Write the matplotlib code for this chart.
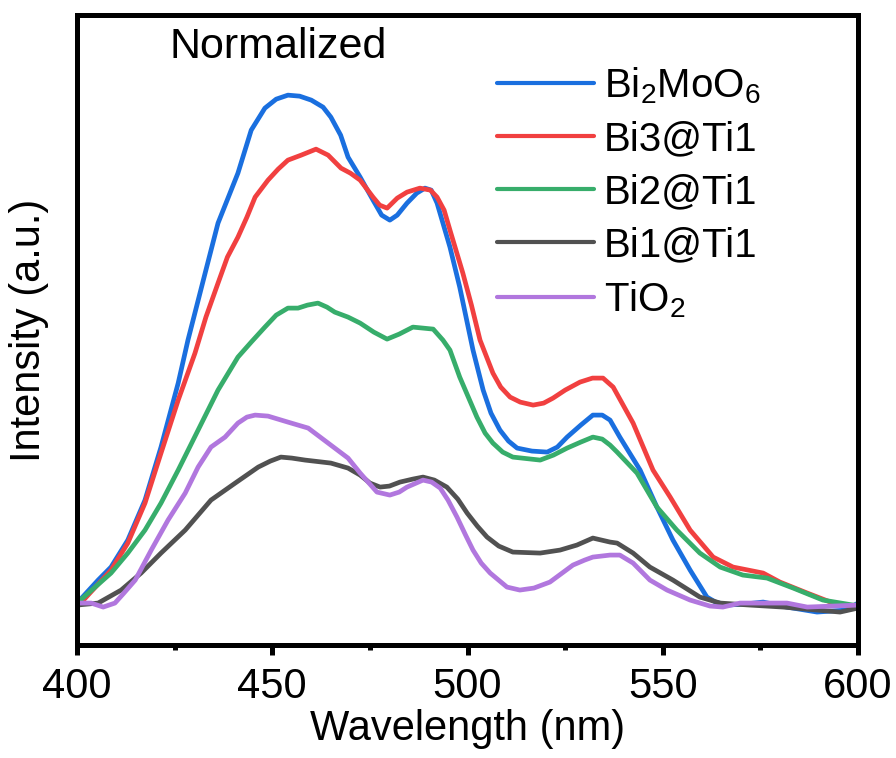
import matplotlib
matplotlib.use("Agg")
import matplotlib.pyplot as plt
from matplotlib.ticker import MultipleLocator

plt.rcParams['font.family'] = ['Liberation Sans', 'DejaVu Sans']
plt.rcParams['mathtext.default'] = 'regular'

labels = ['Bi$_2$MoO$_6$', 'Bi3@Ti1', 'Bi2@Ti1', 'Bi1@Ti1', 'TiO$_2$']
colors = ['#1A6FDF', '#F14040', '#37AD6B', '#515151', '#B177DE']

# Bi2MoO6
wl_bmo = [400, 405.4, 408.7, 413, 417.4, 421.5, 425.9, 428.4, 432.8, 436.1, 441.2, 444.6, 448.1,
          451, 454, 457, 460, 463, 465, 467.5, 469.4, 472.5, 475.8, 478, 480.1, 482, 484.5,
          487, 489.1, 490.7, 492.2, 495.5, 498, 501.4,
          504, 506, 508.3, 510.5, 512.7, 516.5, 520.4, 523, 525.5, 529, 532.1, 534.5, 536.5,
          539, 544.2, 548.5, 552.6, 557, 561.3, 563.5,
          566.5, 571, 575.7, 581.8, 589.5, 597, 600]
in_bmo = [42, 65, 78, 105, 145, 198, 262, 305, 372, 422, 472, 515, 537,
          546, 550, 549, 545, 538, 528, 510, 488, 468, 445, 430, 425, 430, 442,
          452, 457, 455, 442, 398, 358, 295,
          255, 232, 215, 204, 197, 194, 193, 198, 208, 220, 230, 230, 225,
          208, 175, 138, 105, 75, 48, 43,
          40, 41, 43, 38, 33, 35, 42]

# Bi3@Ti1
wl_b3 = [400, 408.7, 413, 417.4, 421.5, 425.9, 430.2, 433, 436.1, 438.5, 441.2, 443.5, 445.6,
         448.9, 451.5, 454, 457.4,
         461.2, 464.3, 467.6, 470, 472.5, 475.8, 477.5, 479.4, 482, 484.5, 487.8, 490.5, 492.2,
         494, 495.5, 498.8, 501, 503.2,
         506.5, 508.5, 510.9, 513.5, 516.8, 519.5, 521.9, 525, 528.8, 532, 534.7, 537.3, 542.4,
         547.5, 551.9, 557, 562.9, 568,
         575.7, 580, 587, 593.6, 600]
in_b3 = [38, 75, 102, 142, 192, 245, 292, 328, 362, 388, 408, 428, 448,
         465, 476, 485, 490,
         496, 490, 477, 472, 465, 448, 440, 437, 447, 453, 457, 455, 448,
         435, 415, 372, 340, 305,
         272, 258, 248, 243, 240, 242, 247, 255, 263, 267, 267, 258, 222,
         175, 148, 115, 88, 78,
         72, 63, 52, 42, 38]

# Bi2@Ti1
wl_b2 = [400, 408.7, 413, 417.4, 421.5, 425.9, 431, 436.1, 441.2, 444.6, 448.1, 451, 454, 456.6,
         459, 461.7, 464, 466, 469.4, 472.5, 476, 479.4, 482.5, 486, 491.2, 493.7, 495.5, 498,
         502.4, 504.5, 506.5, 509, 511.6,
         518.6, 522, 525.5, 529, 532.1, 534.5, 536.5, 538.3, 543.4, 548.5, 553.6, 559.5, 564.7,
         570.5, 576.7, 583.4, 591, 598.7, 600]
in_b2 = [42, 72, 92, 115, 142, 175, 215, 255, 288, 303, 318, 330, 337, 337,
         340, 342, 338, 333, 328, 322, 313, 306, 311, 318, 316, 305, 295, 268,
         228, 212, 202, 193, 188,
         185, 190, 197, 203, 208, 206, 200, 193, 172, 138, 115, 92, 78,
         70, 67, 57, 45, 40, 40]

# Bi1@Ti1
wl_b1 = [400, 405.4, 411.3, 416.4, 421.5, 427.7, 434.3, 440.5, 446.4, 449.5, 452.2, 455, 458.4, 465,
         469.4, 472.5, 475, 477.6, 480, 482.7, 486, 488.6, 491.5, 494.7, 497.5, 499.9, 502.5,
         505, 508, 511.6, 518.6, 523.7, 528, 532.1,
         536.5, 538.3, 542.4, 546.7, 552.6, 559.5, 564.7, 572.3, 580.8, 589.5, 595.4, 600]
in_b1 = [40, 42, 55, 72, 92, 115, 145, 162, 178, 184, 188, 187, 185, 182,
         177, 170, 162, 158, 159, 163, 166, 168, 165, 158, 146, 132, 119,
         108, 99, 93, 92, 95, 100, 107,
         103, 102, 92, 78, 65, 48, 42, 40, 38, 35, 33, 37]

# TiO2
wl_ti = [400, 403.6, 406.7, 409.7, 412, 414.9, 419, 423.3, 427.7, 431, 434.3, 437.9, 441.2,
         443.5, 445.6, 448.9, 454, 459.2, 464.3, 469.4, 472.5, 476.8, 480.1, 482.5, 484.5,
         488.6, 490.8, 493, 495, 497.3, 499.5,
         501.4, 503.5, 505.8, 510.1, 513.4, 517, 521.1, 527, 530, 532.1, 536.5, 539, 542.4,
         546.7, 551.1, 557,
         562.1, 565.4, 569.8, 576.7, 581.8, 587, 593.6, 600]
in_ti = [42, 42, 38, 42, 52, 65, 95, 125, 152, 178, 198, 208, 222,
         228, 230, 229, 223, 217, 202, 187, 172, 153, 150, 153, 158,
         165, 163, 157, 145, 128, 110,
         95, 82, 72, 58, 55, 57, 63, 80, 85, 88, 90, 90, 82,
         65, 55, 45,
         39, 38, 42, 42, 42, 38, 39, 40]

series_wl = [wl_bmo, wl_b3, wl_b2, wl_b1, wl_ti]
series_in = [in_bmo, in_b3, in_b2, in_b1, in_ti]

fig = plt.figure(figsize=(8.96, 7.58), dpi=100)
ax = fig.add_axes([0.086, 0.149, 0.8716, 0.831])

for wl, it, lab, c in zip(series_wl, series_in, labels, colors):
    ax.plot(wl, it, color=c, lw=3.4, label=lab, solid_joinstyle='round', solid_capstyle='round')

ax.set_xlim(400, 600)
ax.set_ylim(0, 630)
ax.xaxis.set_major_locator(MultipleLocator(50))
ax.xaxis.set_minor_locator(MultipleLocator(25))
ax.set_yticks([])
ax.tick_params(axis='x', which='major', direction='out', length=7.5, width=3.6,
               labelsize=30, pad=8, top=False)
ax.tick_params(axis='x', which='minor', direction='out', length=3.5, width=3.6, top=False)
for s in ax.spines.values():
    s.set_linewidth(3.6)

ax.set_xlabel('Wavelength (nm)', fontsize=30, labelpad=2)
ax.set_ylabel('Intensity (a.u.)', fontsize=30, labelpad=20)

ax.text(0.257, 0.949, 'Normalized', transform=ax.transAxes, fontsize=31,
        ha='center', va='center')

leg = ax.legend(loc='upper left', bbox_to_anchor=(0.538, 0.921), frameon=False,
                fontsize=29, handlelength=2.4, handletextpad=0.25, labelspacing=0.37,
                borderpad=0, borderaxespad=0)
for l in leg.get_lines():
    l.set_linewidth(3.0)

fig.savefig('out.png', dpi=100)
